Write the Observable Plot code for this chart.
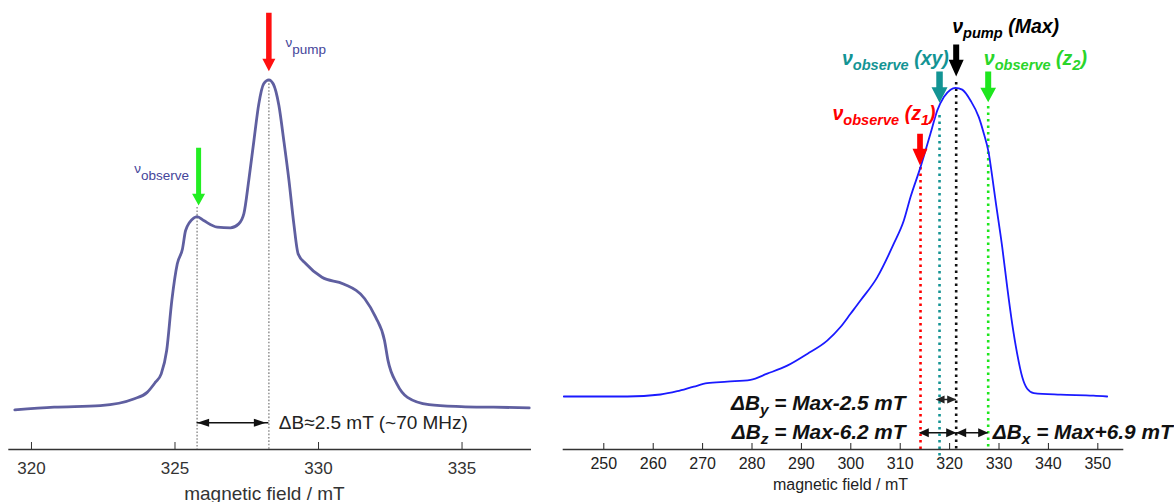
<!DOCTYPE html>
<html><head><meta charset="utf-8">
<script src="https://cdn.jsdelivr.net/npm/d3@7"></script>
<script src="https://cdn.jsdelivr.net/npm/@observablehq/plot@0.6"></script>
<style>
html,body{margin:0;padding:0;background:#fff;}
#wrap{position:relative;width:1174px;height:502px;overflow:hidden;background:#fff;}
#wrap svg{position:absolute;top:0;}
</style></head><body><div id="wrap"></div>
<script>
// ---------- data ----------
const leftField = [319.42,320.79,322.40,323.56,324.03,324.32,324.52,324.71,324.89,325.08,325.26,325.37,325.66,325.77,326.00,326.47,326.93,327.22,327.40,327.57,327.75,327.92,328.09,328.27,328.42,328.62,328.79,328.97,329.14,329.29,329.56,330.12,330.87,331.61,331.99,332.30,332.42,332.73,333.10,333.85,334.97,336.09,337.34];
const leftIntensity = [-0.001,0.007,0.012,0.032,0.052,0.083,0.108,0.179,0.331,0.442,0.487,0.543,0.581,0.585,0.573,0.553,0.551,0.563,0.594,0.695,0.816,0.927,0.988,1.0,0.988,0.922,0.816,0.695,0.563,0.472,0.442,0.401,0.381,0.336,0.280,0.209,0.149,0.078,0.037,0.015,0.009,0.007,0.005];
const rightField = [241.90,247.98,254.74,261.48,264.86,268.22,270.93,274.98,279.70,283.08,287.13,291.17,295.22,297.91,299.94,301.96,305.34,308.70,310.73,312.09,314.11,316.13,317.49,318.83,320.18,321.19,322.55,324.23,325.91,326.92,327.94,328.62,329.29,330.65,331.66,332.67,333.68,334.70,335.71,337.04,342.45,349.13,351.90];
const rightIntensity = [0.0,0.0,0.0,0.0065,0.017,0.032,0.043,0.048,0.054,0.074,0.100,0.138,0.181,0.225,0.268,0.311,0.386,0.495,0.570,0.646,0.743,0.852,0.926,0.970,0.994,1.0,0.994,0.959,0.905,0.852,0.787,0.713,0.635,0.484,0.354,0.235,0.138,0.063,0.025,0.011,0.006,0.003,0.0];
const leftTicks = [320,325,330,335];
const rightTicks = [250,260,270,280,290,300,310,320,330,340,350];
const leftMarkerFields = [325.77, 328.27];              // observe, pump
const rightMarkerFields = [314.11, 317.96, 321.33, 327.81]; // z1, xy, pump (Max), z2
const axisTitle = "magnetic field / mT";
const leftPumpLabel = "ν_{pump}";
const leftObserveLabel = "ν_{observe}";
const leftDeltaLabel = "ΔB≈2.5 mT (~70 MHz)";
const rightTopLabels = ["ν_{observe} (z_{1})", "ν_{observe} (xy)", "ν_{pump} (Max)", "ν_{observe} (z_{2})"];
const rightDeltaLabels = ["ΔB_{y} = Max-2.5 mT", "ΔB_{z} = Max-6.2 mT", "ΔB_{x} = Max+6.9 mT"];

// ---------- helpers ----------
const FONT = "'Liberation Sans', Arial, Helvetica, sans-serif";
function downArrow(len, shaft, headW, headH) {
  return {draw(ctx) {
    ctx.moveTo(0, 0);
    ctx.lineTo(-headW / 2, -headH);
    ctx.lineTo(-shaft / 2, -headH);
    ctx.lineTo(-shaft / 2, -len);
    ctx.lineTo(shaft / 2, -len);
    ctx.lineTo(shaft / 2, -headH);
    ctx.lineTo(headW / 2, -headH);
    ctx.closePath();
  }};
}
function headLeft(L, H) { return {draw(ctx) { ctx.moveTo(0, 0); ctx.lineTo(L, -H / 2); ctx.lineTo(L, H / 2); ctx.closePath(); }}; }
function headRight(L, H) { return {draw(ctx) { ctx.moveTo(0, 0); ctx.lineTo(-L, -H / 2); ctx.lineTo(-L, H / 2); ctx.closePath(); }}; }
function doubleArrow(xa, xb, y, L, H, color, sw, dxa = 0, dxb = 0) {
  return [
    Plot.ruleY([{y, xa, xb}], {y: "y", x1: "xa", x2: "xb", stroke: color, strokeWidth: sw}),
    Plot.dot([{x: xa, y}], {x: "x", y: "y", dx: dxa, symbol: headLeft(L, H), fill: color, stroke: "none"}),
    Plot.dot([{x: xb, y}], {x: "x", y: "y", dx: dxb, symbol: headRight(L, H), fill: color, stroke: "none"})
  ];
}
const NS = "http://www.w3.org/2000/svg";
// turn "_{...}" parts of a text into real subscript tspans
function applySubs(svg, pick) {
  svg.querySelectorAll("text").forEach(t => {
    const s = t.textContent;
    if (!s.includes("_{")) return;
    const [subSize, shift] = pick(s);
    const parts = s.split(/(_\{[^}]*\})/).filter(p => p.length);
    while (t.firstChild) t.removeChild(t.firstChild);
    let down = false;
    for (const p of parts) {
      const e = document.createElementNS(NS, "tspan");
      if (p.startsWith("_{")) {
        e.textContent = p.slice(2, -1);
        e.setAttribute("font-size", subSize);
        e.setAttribute("dy", shift);
        down = true;
      } else {
        e.textContent = p;
        if (down) e.setAttribute("dy", -shift);
        down = false;
      }
      t.appendChild(e);
    }
  });
}

// ---------- left panel ----------
const LY0 = -0.1213, LY1 = 1.2405;
const [obsL, pumpL] = leftMarkerFields;
const leftData = leftField.map((f, i) => ({f, v: leftIntensity[i]}));
const dotted = {stroke: "#999", strokeWidth: 1.6, strokeDasharray: "1.6 1.8"};
const leftLabelStyle = {fontSize: 13.5, fill: "#45459a", lineAnchor: "bottom"};

const left = Plot.plot({
  width: 545, height: 502,
  marginLeft: 8.3, marginRight: 14, marginTop: 0, marginBottom: 53,
  x: {domain: [319.21, 337.42], axis: null},
  y: {domain: [LY0, LY1], axis: null},
  style: {fontFamily: FONT, background: "transparent"},
  marks: [
    Plot.ruleX([obsL], {y1: 0.6127, y2: LY0, ...dotted}),
    Plot.ruleX([pumpL], {y1: 0.998, y2: LY0, ...dotted}),
    Plot.line(leftData, {x: "f", y: "v", stroke: "#5f5fa0", strokeWidth: 2.8, curve: "monotone-x"}),
    Plot.ruleY([LY0], {stroke: "#333", strokeWidth: 1.5}),
    Plot.axisX({ticks: leftTicks, tickSize: -7, tickPadding: 19, fontSize: 17, color: "#333", tickFormat: d => `${d}`}),
    Plot.text([axisTitle], {text: d => d, frameAnchor: "bottom", dx: -5.7, dy: 50, lineAnchor: "bottom", fontSize: 19, fill: "#333"}),
    Plot.dot([{x: pumpL, y: 1.0261}], {x: "x", y: "y", symbol: downArrow(58.4, 5.5, 13, 12.4), fill: "#ff1010", stroke: "none"}),
    Plot.dot([{x: obsL, y: 0.6187}], {x: "x", y: "y", dx: 1.5, symbol: downArrow(57.7, 5, 13, 11.7), fill: "#22ee22", stroke: "none"}),
    Plot.text([leftPumpLabel], {text: d => d, x: pumpL, y: 1.098, dx: 16.7, textAnchor: "start", ...leftLabelStyle}),
    Plot.text([leftObserveLabel], {text: d => d, x: obsL, y: 0.7158, dx: -8, textAnchor: "end", ...leftLabelStyle}),
    ...doubleArrow(obsL, pumpL, -0.0403, 12, 8, "#111", 1.5, 0, -3),
    Plot.text([leftDeltaLabel], {text: d => d, x: pumpL, y: -0.0585, dx: 10, textAnchor: "start", lineAnchor: "bottom", fontSize: 19, fill: "#222"})
  ]
});
applySubs(left, () => [13.5, 7]);
left.style.left = "0px";

// ---------- right panel ----------
const RY0 = -0.1717, RY1 = 1.2828;
const [z1, xy, mx, z2] = rightMarkerFields;
const rightData = rightField.map((f, i) => ({f, v: rightIntensity[i]}));
const rdot = (c) => ({stroke: c, strokeWidth: 2.6, strokeDasharray: "2.6 3.9"});
const TEAL = "#139494", RED = "#ff0000", GREEN = "#1ee61e";
const topStyle = {fontSize: 19.5, fontWeight: "bold", fontStyle: "italic", lineAnchor: "bottom"};
const dStyle = {fontSize: 20.8, fontWeight: "bold", fontStyle: "italic", lineAnchor: "bottom", fill: "#111"};

const right = Plot.plot({
  width: 629, height: 502,
  marginLeft: 17.7, marginRight: 50.7, marginTop: 0, marginBottom: 53,
  x: {domain: [241.78, 355.26], axis: null},
  y: {domain: [RY0, RY1], axis: null},
  style: {fontFamily: FONT, background: "transparent"},
  marks: [
    Plot.ruleX([z1], {y1: 0.7418, y2: RY0, ...rdot(RED)}),
    Plot.ruleX([xy], {y1: 0.9103, y2: -0.2073, ...rdot(TEAL)}),
    Plot.ruleX([mx], {y1: 1.0172, y2: -0.175, ...rdot("#111")}),
    Plot.ruleX([z2], {y1: 0.9394, y2: -0.175, ...rdot(GREEN)}),
    Plot.line(rightData, {x: "f", y: "v", stroke: "#1a1aff", strokeWidth: 1.8, curve: "monotone-x"}),
    Plot.ruleY([RY0], {stroke: "#333", strokeWidth: 1.5}),
    Plot.axisX({ticks: rightTicks, tickSize: -6, tickPadding: 14.3, fontSize: 16, color: "#222", tickFormat: d => `${d}`}),
    Plot.text([axisTitle], {text: d => d, frameAnchor: "bottom", dx: -3, dy: 40, lineAnchor: "bottom", fontSize: 16, fill: "#222"}),
    Plot.dot([{x: z1, y: 0.7483}], {x: "x", y: "y", dx: -0.5, symbol: downArrow(31.7, 5.7, 15, 16.7), fill: RED, stroke: "none"}),
    Plot.dot([{x: xy, y: 0.9514}], {x: "x", y: "y", symbol: downArrow(31.3, 6.5, 16, 15.6), fill: TEAL, stroke: "none"}),
    Plot.dot([{x: mx, y: 1.0366}], {x: "x", y: "y", symbol: downArrow(32, 6, 15, 16.7), fill: "#000", stroke: "none"}),
    Plot.dot([{x: z2, y: 0.9534}], {x: "x", y: "y", symbol: downArrow(30.7, 6, 15.7, 14.4), fill: GREEN, stroke: "none"}),
    Plot.text([rightTopLabels[0]], {text: d => d, x: z1, y: 0.8973, dx: 15, textAnchor: "end", fill: RED, ...topStyle}),
    Plot.text([rightTopLabels[1]], {text: d => d, x: xy, y: 1.0748, dx: 9.3, textAnchor: "end", fill: TEAL, ...topStyle}),
    Plot.text([rightTopLabels[2]], {text: d => d, x: mx, y: 1.179, dx: -4, textAnchor: "start", fill: "#000", ...topStyle}),
    Plot.text([rightTopLabels[3]], {text: d => d, x: z2, y: 1.0748, dx: -4.4, textAnchor: "start", fill: "#2ad52a", ...topStyle}),
    ...doubleArrow(xy, mx, -0.0097, 9, 8, "#222", 1.5, -4, 0),
    ...doubleArrow(z1, mx, -0.1176, 10, 9, "#111", 1.5, -1.7, 0),
    ...doubleArrow(mx, z2, -0.1176, 10, 9, "#111", 1.5, 0, 0),
    Plot.text([rightDeltaLabels[0]], {text: d => d, x: z1, y: -0.0431, dx: -15, textAnchor: "end", ...dStyle}),
    Plot.text([rightDeltaLabels[1]], {text: d => d, x: z1, y: -0.137, dx: -15, textAnchor: "end", ...dStyle}),
    Plot.text([rightDeltaLabels[2]], {text: d => d, x: z2, y: -0.137, dx: 4.6, textAnchor: "start", ...dStyle})
  ]
});
applySubs(right, s => s.startsWith("Δ") ? [15.5, 5] : [14.6, 5]);
right.style.left = "545px";

const wrap = document.getElementById("wrap");
wrap.appendChild(left);
wrap.appendChild(right);
</script></body></html>
